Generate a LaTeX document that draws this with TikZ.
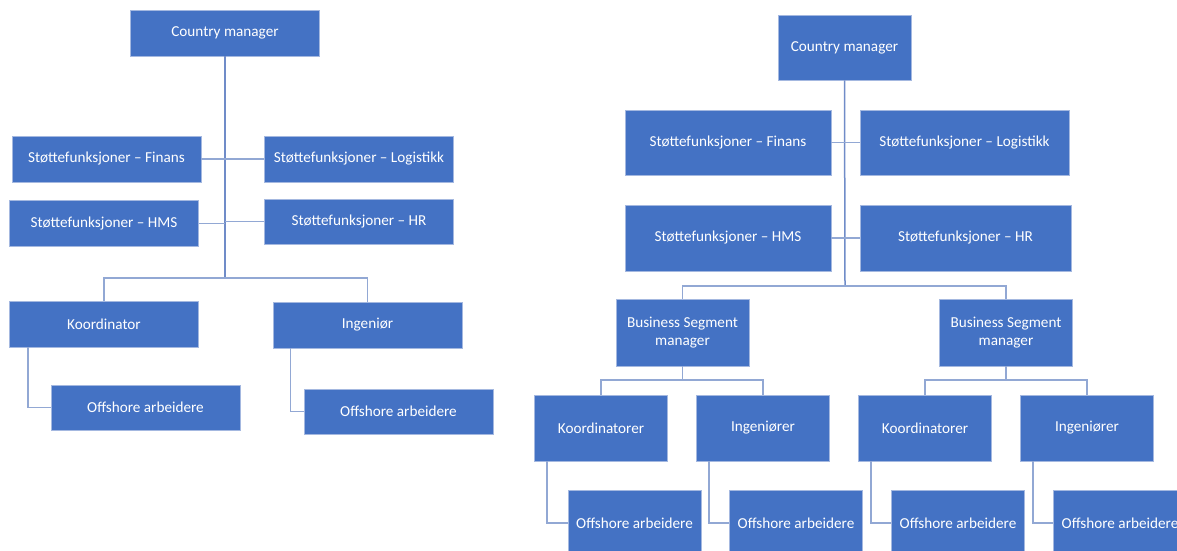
\documentclass[tikz,border=0pt]{standalone}
\usepackage{fontspec}
\setmainfont{Carlito}
\usepackage{tikz}
\usetikzlibrary{calc}
\definecolor{unitfill}{RGB}{68,114,196}
\definecolor{unitedge}{RGB}{164,184,224}
\definecolor{trunkc}{RGB}{112,140,200}
\definecolor{linkc}{RGB}{146,168,212}

\begin{document}
\begin{tikzpicture}[x=1pt, y=-1pt,
        unit/.style={rectangle, fill=unitfill, draw=unitedge, line width=0.8pt, text=white,
            font=\fontsize{15.2}{18}\selectfont, align=center, inner sep=2pt},
        lunit/.style={unit, minimum width=189pt, minimum height=46pt},
        runit/.style={unit, minimum width=133pt, minimum height=66pt},
        wunit/.style={unit, minimum width=206pt, minimum height=66pt},
        trunk/.style={draw=trunkc, line width=1.5pt},
        link/.style={draw=linkc, line width=1.5pt}]
            \useasboundingbox (0,0) rectangle (1177,551);
            \fill[white] (0,0) rectangle (1177,551);
            \clip (0,0) rectangle (1177,551);
            % left chart
            \coordinate (ljoin) at (225,278);
            \node[lunit] (lcm) at (225,33) {Country manager};
            \node[lunit] (lfin) at (106.5,159) {Støttefunksjoner – Finans};
            \node[lunit] (llog) at (359,159) {Støttefunksjoner – Logistikk};
            \node[lunit] (lhms) at (104,223.5) {Støttefunksjoner – HMS};
            \node[lunit, minimum height=45pt] (lhr) at (359,221.5) {Støttefunksjoner – HR};
            \node[lunit] (lkoo) at (104,324) {Koordinator};
            \node[lunit] (ling) at (367.5,325) {Ingeniør};
            \node[lunit, minimum height=45pt] (loff1) at (145.5,407.5) {Offshore arbeidere};
            \node[lunit, minimum height=45pt] (loff2) at (398.5,411.5) {Offshore arbeidere};
            \draw[trunk] (lcm.south) -- (ljoin);
            \draw[link] (lfin.east) -- (llog.west);
            \draw[link] (lhms.east) -- (lhms.east -| ljoin);
            \draw[link] (lhr.west) -- (lhr.west -| ljoin);
            \draw[link] (lkoo.north) |- (ljoin) -| (ling.north);
            \draw[link] ([xshift=19pt]lkoo.south west) |- (loff1.west);
            \draw[link] ([xshift=18pt]ling.south west) |- (loff2.west);
            % right chart
            \coordinate (rjoin) at (845,286);
            \coordinate (rjoin1) at (682.5,380);
            \coordinate (rjoin2) at (1006,380);
            \node[runit, minimum height=65pt] (rcm) at (844.5,47.5) {Country manager};
            \node[wunit, minimum height=65pt] (rfin) at (728,142.5) {Støttefunksjoner – Finans};
            \node[wunit, minimum height=65pt, minimum width=209pt] (rlog) at (964.5,142.5) {Støttefunksjoner – Logistikk};
            \node[wunit] (rhms) at (728,238) {Støttefunksjoner – HMS};
            \node[wunit, minimum width=211pt] (rhr) at (965.5,238) {Støttefunksjoner – HR};
            \node[runit, minimum height=67pt] (rbs1) at (682.5,332.5) {Business Segment\\manager};
            \node[runit, minimum height=67pt] (rbs2) at (1006,332.5) {Business Segment\\manager};
            \node[runit] (rkoo1) at (601,428) {Koordinatorer};
            \node[runit] (ring1) at (763,428) {Ingeniører};
            \node[runit] (rkoo2) at (925,428) {Koordinatorer};
            \node[runit] (ring2) at (1087,428) {Ingeniører};
            \node[runit] (roff1) at (634.5,523) {Offshore arbeidere};
            \node[runit] (roff2) at (796,523) {Offshore arbeidere};
            \node[runit] (roff3) at (958,523) {Offshore arbeidere};
            \node[runit] (roff4) at (1120,523) {Offshore arbeidere};
            \draw[trunk] (rcm.south) -- (rjoin);
            \draw[link] (rfin.east) -- (rlog.west);
            \draw[link] (rhms.east) -- (rhr.west);
            \draw[link] (rbs1.north) |- (rjoin) -| (rbs2.north);
            \draw[link] (rbs1.south) -- (rjoin1);
            \draw[link] (rkoo1.north) |- (rjoin1) -| (ring1.north);
            \draw[link] (rbs2.south) -- (rjoin2);
            \draw[link] (rkoo2.north) |- (rjoin2) -| (ring2.north);
            \draw[link] ([xshift=13pt]rkoo1.south west) |- (roff1.west);
            \draw[link] ([xshift=13pt]ring1.south west) |- (roff2.west);
            \draw[link] ([xshift=13pt]rkoo2.south west) |- (roff3.west);
            \draw[link] ([xshift=13pt]ring2.south west) |- (roff4.west);
        \end{tikzpicture}
\end{document}
